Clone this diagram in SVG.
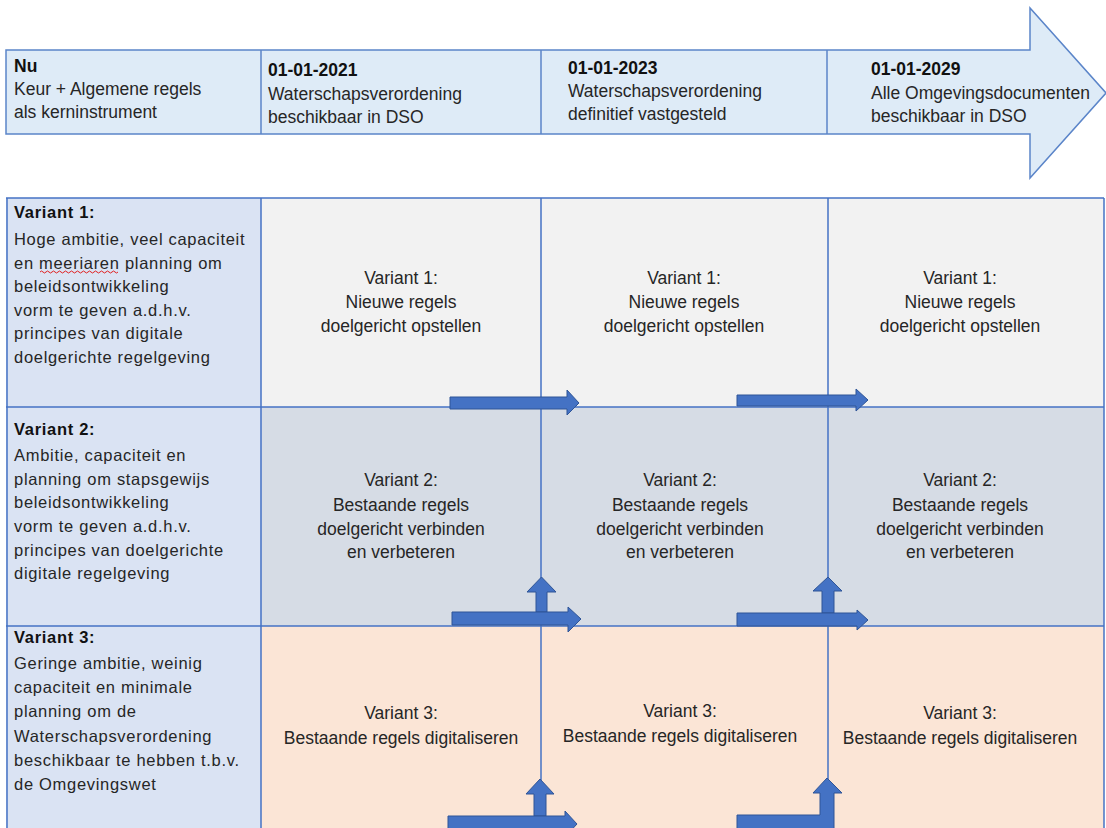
<svg xmlns="http://www.w3.org/2000/svg" width="1106" height="828" viewBox="0 0 1106 828">
<style>
text{font-family:"Liberation Sans",Arial,sans-serif;font-size:17.5px;fill:#262626}
.l{font-size:16.5px;letter-spacing:0.7px}
.b{font-weight:bold;fill:#111}
.c{text-anchor:middle}
.grid{stroke:#4472C4;stroke-width:1.5;fill:none}
.arr{fill:#4472C4;stroke:#2F5597;stroke-width:1}
</style>
<rect width="1106" height="828" fill="#fff"/>
<g id="timeline">
<polygon points="6,50 1030,50 1030,8 1106,93 1030,178 1030,134 6,134" fill="#DEEBF7" stroke="#5B85C9" stroke-width="1.5"/>
<line x1="261" y1="50" x2="261" y2="134" stroke="#5B85C9" stroke-width="1.5"/>
<line x1="541" y1="50" x2="541" y2="134" stroke="#5B85C9" stroke-width="1.5"/>
<line x1="827" y1="50" x2="827" y2="134" stroke="#5B85C9" stroke-width="1.5"/>
</g>
<g id="t-nu"><text x="14" y="72" class="b">Nu</text><text x="14" y="95">Keur + Algemene regels</text><text x="14" y="118">als kerninstrument</text></g>
<g id="t-2021"><text x="268" y="76" class="b">01-01-2021</text><text x="268" y="100">Waterschapsverordening</text><text x="268" y="123">beschikbaar in DSO</text></g>
<g id="t-2023"><text x="568" y="74" class="b">01-01-2023</text><text x="568" y="97">Waterschapsverordening</text><text x="568" y="120">definitief vastgesteld</text></g>
<g id="t-2029"><text x="871" y="75" class="b">01-01-2029</text><text x="871" y="99">Alle Omgevingsdocumenten</text><text x="871" y="122">beschikbaar in DSO</text></g>

<g id="cells">
<rect x="6" y="198" width="255" height="640" fill="#DAE3F3"/>
<rect x="261" y="198" width="843" height="209" fill="#F2F2F2"/>
<rect x="261" y="407" width="843" height="219" fill="#D6DCE5"/>
<rect x="261" y="626" width="843" height="212" fill="#FBE5D6"/>
</g>
<g id="gridlines">
<line class="grid" x1="6" y1="198" x2="1104" y2="198"/>
<line class="grid" x1="6" y1="407" x2="1104" y2="407"/>
<line class="grid" x1="6" y1="626" x2="1104" y2="626"/>
<line class="grid" x1="7" y1="198" x2="7" y2="828"/>
<line class="grid" x1="261" y1="198" x2="261" y2="828"/>
<line class="grid" x1="541" y1="198" x2="541" y2="828"/>
<line class="grid" x1="828" y1="198" x2="828" y2="828"/>
<line class="grid" x1="1104" y1="198" x2="1104" y2="828"/>
</g>

<g id="v1-desc">
<text x="14" y="218" class="l b">Variant 1:</text>
<text x="14" y="245" class="l">Hoge ambitie, veel capaciteit</text>
<text x="14" y="269" class="l">en meeriaren planning om</text>
<text x="14" y="292" class="l">beleidsontwikkeling</text>
<text x="14" y="316" class="l">vorm te geven a.d.h.v.</text>
<text x="14" y="339" class="l">principes van digitale</text>
<text x="14" y="363" class="l">doelgerichte regelgeving</text>
<path d="M40,272 q1.5,-2 3,0 t3,0 t3,0 t3,0 t3,0 t3,0 t3,0 t3,0 t3,0 t3,0 t3,0 t3,0 t3,0 t3,0 t3,0 t3,0 t3,0 t3,0 t3,0 t3,0 t3,0 t3,0 t3,0 t3,0 t3,0 t3,0" fill="none" stroke="#E02020" stroke-width="1"/>
</g>
<g id="v2-desc">
<text x="14" y="435" class="l b">Variant 2:</text>
<text x="14" y="461" class="l">Ambitie, capaciteit en</text>
<text x="14" y="485" class="l">planning om stapsgewijs</text>
<text x="14" y="508" class="l">beleidsontwikkeling</text>
<text x="14" y="532" class="l">vorm te geven a.d.h.v.</text>
<text x="14" y="556" class="l">principes van doelgerichte</text>
<text x="14" y="579" class="l">digitale regelgeving</text>
</g>
<g id="v3-desc">
<text x="14" y="643" class="l b">Variant 3:</text>
<text x="14" y="669" class="l">Geringe ambitie, weinig</text>
<text x="14" y="693" class="l">capaciteit en minimale</text>
<text x="14" y="717" class="l">planning om de</text>
<text x="14" y="742" class="l">Waterschapsverordening</text>
<text x="14" y="766" class="l">beschikbaar te hebben t.b.v.</text>
<text x="14" y="790" class="l">de Omgevingswet</text>
</g>

<g id="r1c1"><text class="c" x="401" y="284">Variant 1:</text><text class="c" x="401" y="308">Nieuwe regels</text><text class="c" x="401" y="332">doelgericht opstellen</text></g>
<g id="r1c2"><text class="c" x="684" y="284">Variant 1:</text><text class="c" x="684" y="308">Nieuwe regels</text><text class="c" x="684" y="332">doelgericht opstellen</text></g>
<g id="r1c3"><text class="c" x="960" y="284">Variant 1:</text><text class="c" x="960" y="308">Nieuwe regels</text><text class="c" x="960" y="332">doelgericht opstellen</text></g>

<g id="r2c1"><text class="c" x="401" y="486">Variant 2:</text><text class="c" x="401" y="511">Bestaande regels</text><text class="c" x="401" y="535">doelgericht verbinden</text><text class="c" x="401" y="558">en verbeteren</text></g>
<g id="r2c2"><text class="c" x="680" y="486">Variant 2:</text><text class="c" x="680" y="511">Bestaande regels</text><text class="c" x="680" y="535">doelgericht verbinden</text><text class="c" x="680" y="558">en verbeteren</text></g>
<g id="r2c3"><text class="c" x="960" y="486">Variant 2:</text><text class="c" x="960" y="511">Bestaande regels</text><text class="c" x="960" y="535">doelgericht verbinden</text><text class="c" x="960" y="558">en verbeteren</text></g>

<g id="r3c1"><text class="c" x="401" y="719">Variant 3:</text><text class="c" x="401" y="744">Bestaande regels digitaliseren</text></g>
<g id="r3c2"><text class="c" x="680" y="717">Variant 3:</text><text class="c" x="680" y="742">Bestaande regels digitaliseren</text></g>
<g id="r3c3"><text class="c" x="960" y="719">Variant 3:</text><text class="c" x="960" y="744">Bestaande regels digitaliseren</text></g>

<g id="connectors">
<polygon class="arr" points="450,397 567,397 567,390 579,403 567,415 567,409 450,409"/>
<polygon class="arr" points="737,395 856,395 856,389 868,400 856,411 856,406 737,406"/>
<polygon class="arr" points="536,612 536,592 527,592 541.5,577 556,592 547,592 547,612"/>
<polygon class="arr" points="452,612 568,612 568,607 581,619 568,632 568,625 452,625"/>
<polygon class="arr" points="822,613 822,591 813,591 828,577 842,591 834,591 834,613"/>
<polygon class="arr" points="737,613 857,613 857,610 868,620 857,630 857,626 737,626"/>
<polygon class="arr" points="534,816 534,794 526,794 540,779 554,794 546,794 546,816"/>
<polygon class="arr" points="448,816 565,816 565,811 577,824 565,837 565,832 448,832"/>
<polygon class="arr" points="737,815 820,815 820,793 813,793 827,778 842,793 834,793 834,832 737,832"/>
</g>
</svg>
